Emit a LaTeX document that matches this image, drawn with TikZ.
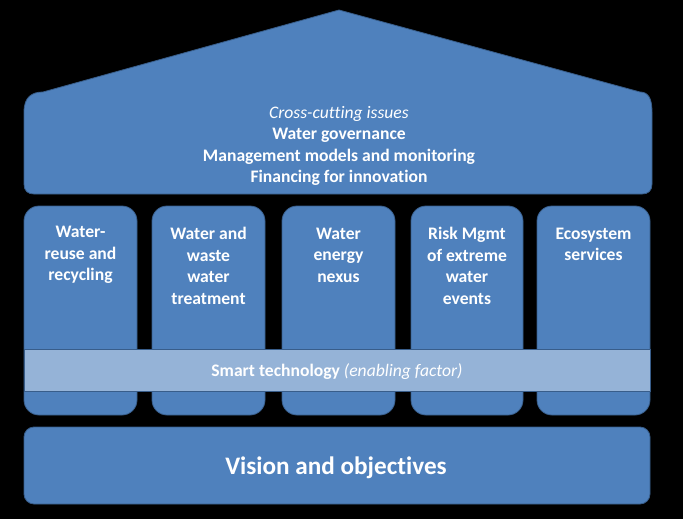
\documentclass[tikz,border=0pt]{standalone}
\usepackage{fontspec}
\setmainfont{Carlito}[Ligatures={NoCommon,NoContextual}]
\definecolor{blockblue}{HTML}{4F81BD}
\definecolor{edgeblue}{HTML}{385D8A}
\definecolor{bandblue}{HTML}{95B3D7}
\begin{document}
\begin{tikzpicture}[x=1pt,y=-1pt,
  blk/.style={fill=blockblue, draw=edgeblue, line width=0.8pt},
  pillar/.style={blk, rounded corners=15pt},
  lbl/.style={text=white, font=\bfseries\fontsize{17.6}{21.5}\selectfont, align=center, inner sep=0pt},
  band/.style={fill=bandblue, draw=edgeblue, line width=0.8pt},
]
\fill[black] (0,0) rectangle (683,519);
\useasboundingbox (0,0) rectangle (683,519);
% roof
\draw[blk] (24,184) -- (24,112) .. controls (24,97) and (32,92) .. (43,92)
  -- (339,10) -- (640,92) .. controls (648,92) and (652,98) .. (652,112)
  -- (652,184) .. controls (652,191) and (648,194) .. (642,194)
  -- (34,194) .. controls (28,194) and (24,191) .. (24,184) -- cycle;
\node[lbl] (roof) at (339,146) {{\mdseries\itshape Cross-cutting issues}\\Water governance\\Management models and monitoring\\Financing for innovation};
% pillars
\draw[pillar] (24,206) rectangle (137,415);
\draw[pillar] (152,206) rectangle (265,415);
\draw[pillar] (282,206) rectangle (395,415);
\draw[pillar] (411,206) rectangle (523,415);
\draw[pillar] (537,206) rectangle (650,415);
\node[lbl] (p1) at (80.5,255) {Water-\\reuse and\\recycling};
\node[lbl] (p2) at (208.5,266) {Water and\\waste\\water\\treatment};
\node[lbl] (p3) at (338.5,255) {Water\\energy\\nexus};
\node[lbl] (p4) at (467,266) {Risk Mgmt\\of extreme\\water\\events};
\node[lbl] (p5) at (593.5,244.5) {Ecosystem\\services};
% band
\draw[band] (24,349) rectangle (650,391);
\node[lbl] (smart) at (337,372) {Smart technology {\mdseries\itshape (enabling factor)}};
% base
\draw[blk, rounded corners=10pt] (24,427) rectangle (650,504);
\node[lbl, font=\bfseries\fontsize{25.2}{30}\selectfont] (vision) at (336,468) {Vision and objectives};
\end{tikzpicture}
\end{document}
